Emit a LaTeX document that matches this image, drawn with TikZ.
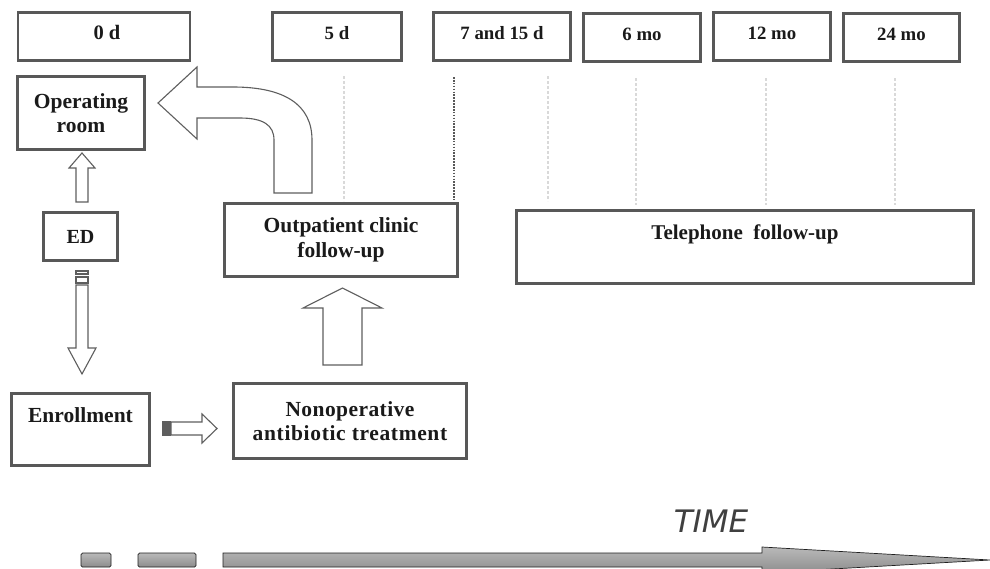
\documentclass[tikz,border=0pt]{standalone}
\usepackage{fontspec}
\setmainfont{Liberation Serif}
\newfontfamily\timefont{DejaVu Sans}
\usetikzlibrary{calc}
\definecolor{edge}{HTML}{585858}
\definecolor{ink}{HTML}{1A1A1A}
\definecolor{arrowedge}{HTML}{5E5E5E}
\tikzset{
  box/.style={draw=edge, line width=2.6pt, fill=white, inner sep=0pt, align=center,
    text=ink, font=\bfseries\fontsize{21.5}{24.5}\selectfont},
  timebox/.style={box, font=\bfseries\fontsize{18.8}{20}\selectfont, text height=13pt, text depth=8pt},
  topbox/.style={box, text height=14pt, text depth=29pt},
  blockarrow/.style={draw=arrowedge, line width=1.1pt, fill=white, line join=miter},
  guide/.style={draw=gray!30, line width=1.3pt, dash pattern=on 3pt off 2pt},
  dotguide/.style={draw=edge, line width=1.7pt, dash pattern=on 1.6pt off 1.3pt},
  timebar/.style={draw=gray!25!black, line width=0.7pt, top color=gray!55, bottom color=gray!90, middle color=gray!72}
}
\begin{document}
\begin{tikzpicture}[x=1pt,y=-1pt]
\useasboundingbox (0,0) rectangle (990,568);
\fill[white] (0,0) rectangle (990,568);

% time point boxes
\node[timebox, font=\bfseries\fontsize{20.5}{22}\selectfont, minimum width=172pt, minimum height=48pt] (d0) at (104,36.5) {\hspace*{6pt}0 d};
\node[timebox, minimum width=129pt, minimum height=48pt] (d5) at (337,36.5) {5 d};
\node[timebox, minimum width=137pt, minimum height=48pt] (d7) at (502,36.5) {7 and 15 d};
\node[timebox, minimum width=117pt, minimum height=48pt] (m6) at (642,37.5) {6 mo};
\node[timebox, minimum width=117pt, minimum height=48pt] (m12) at (772,36.5) {12 mo};
\node[timebox, minimum width=116pt, minimum height=48pt] (m24) at (901.5,37.5) {24 mo};

% guide lines
\coordinate (g5t) at (344,76);   \coordinate (g5b) at (344,201);
\coordinate (g7t) at (454,77);   \coordinate (g7b) at (454,201);
\coordinate (g15t) at (548,76);  \coordinate (g15b) at (548,201);
\coordinate (g6t) at (636,78);   \coordinate (g6b) at (636,205);
\coordinate (g12t) at (766,78);  \coordinate (g12b) at (766,205);
\coordinate (g24t) at (895,78);  \coordinate (g24b) at (895,205);
\draw[guide] (g5t) -- (g5b);
\draw[dotguide] (g7t) -- (g7b);
\draw[guide] (g15t) -- (g15b);
\draw[guide] (g6t) -- (g6b);
\draw[guide] (g12t) -- (g12b);
\draw[guide] (g24t) -- (g24b);

% process boxes
\node[box, minimum width=127pt, minimum height=73pt] (or) at (81,113) {Operating\\room};
\node[box, font=\bfseries\fontsize{20}{22}\selectfont, minimum width=74pt, minimum height=48pt] (ed) at (80.5,236.5) {ED};
\node[box, minimum width=233pt, minimum height=73pt] (oc) at (341,240) {Outpatient clinic\\follow-up};
\node[topbox, font=\bfseries\fontsize{21}{24}\selectfont, minimum width=457pt, minimum height=73pt] (tel) at (745,247) {Telephone\hspace{0.5em}follow-up};
\node[topbox, minimum width=138pt, minimum height=72pt] (enr) at (80.5,429.5) {Enrollment};
\node[box, minimum width=233pt, minimum height=75pt] (non) at (350,421) {\addfontfeature{LetterSpace=2}Nonoperative\\\addfontfeature{LetterSpace=3}antibiotic treatment};

% block arrow ED -> Operating room
\draw[blockarrow] (76,202) -- (76,168) -- (69,168) -- (82,153) -- (95,168) -- (88,168) -- (88,202) -- cycle;

% block arrow ED -> Enrollment (striped tail)
\draw[blockarrow] (76,271) rectangle (88,274);
\draw[blockarrow] (76,277) rectangle (88,283);
\draw[blockarrow] (76,285) -- (76,348) -- (68,348) -- (82,374) -- (96,348) -- (88,348) -- (88,285) -- cycle;

% block arrow Enrollment -> Nonoperative (striped tail)
\draw[blockarrow, fill=arrowedge] (163,422) rectangle (166,435);
\draw[blockarrow] (168,422) rectangle (170,435);
\draw[blockarrow] (171,422) -- (202,422) -- (202,414) -- (217,428.5) -- (202,443) -- (202,435) -- (171,435) -- cycle;

% block arrow Nonoperative -> Outpatient clinic
\draw[blockarrow] (323,365) -- (323,308) -- (303,308) -- (342.5,288) -- (382,308) -- (362,308) -- (362,365) -- cycle;

% curved block arrow Outpatient clinic -> Operating room
\draw[blockarrow] (274,193) -- (274,140) .. controls (274,125) and (263,118) .. (240,118)
  -- (197,118) -- (197,139) -- (158,103) -- (197,67) -- (197,87) -- (233,87)
  .. controls (285,87) and (312,105) .. (312,140) -- (312,193) -- cycle;

% time axis
\node[font=\timefont\itshape\fontsize{31}{31}\selectfont, text=gray!50!black, inner sep=0pt] (time) at (711,521.5) {TIME};
\begin{scope}
\clip (0,0) rectangle (990,568);
\draw[timebar, rounded corners=1.5pt] (81,553) rectangle (111,567);
\draw[timebar, rounded corners=1.5pt] (138,553) rectangle (196,567);
\draw[timebar] (223,553) -- (762,553) -- (762,547) -- (990,560) -- (762,573) -- (762,567) -- (223,567) -- cycle;
\end{scope}
\end{tikzpicture}
\end{document}
